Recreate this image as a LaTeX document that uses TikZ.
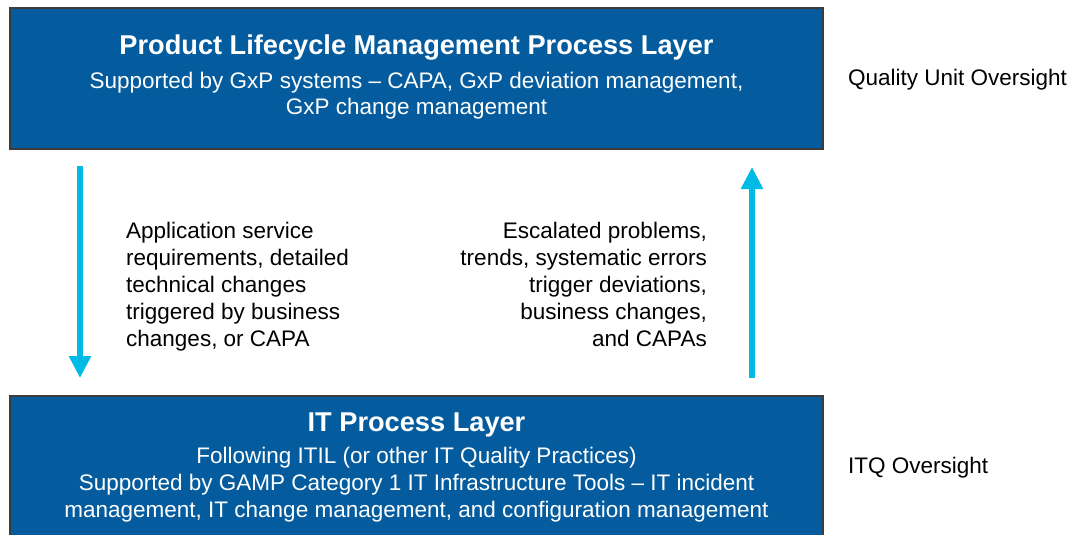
\documentclass[tikz,border=0pt]{standalone}
\usepackage{fontspec}
\setmainfont{Liberation Sans}
\usetikzlibrary{arrows.meta}
\definecolor{layerblue}{RGB}{4,92,158}
\definecolor{layeredge}{RGB}{60,60,60}
\definecolor{flowcyan}{RGB}{0,186,230}
\tikzset{
  layerbox/.style={draw=layeredge, line width=1.5pt, fill=layerblue, rectangle, inner sep=0pt},
  titletext/.style={text=white, font=\fontsize{27.2}{32}\bfseries\selectfont, inner sep=0pt, anchor=base},
  bodytext/.style={text=white, font=\fontsize{22.5}{27}\selectfont, inner sep=0pt, anchor=base, align=center},
  sidetext/.style={text=black, font=\fontsize{22.5}{27}\selectfont, inner sep=0pt},
  flow/.style={draw=flowcyan, line width=6pt, -{Triangle[width=21pt,length=22pt]}}
}
\begin{document}
\begin{tikzpicture}[x=1pt,y=-1pt]
\useasboundingbox (0,0) rectangle (1070,535);
% layer boxes
\node[layerbox, minimum width=813pt, minimum height=141pt] (plm) at (416.5,78.5) {};
\node[layerbox, minimum width=813pt, minimum height=150pt] (itp) at (416.5,471) {};
% box texts (multi-line nodes are anchored at the baseline of their last line)
\node[titletext] (plmtitle) at (416.5,55) {Product Lifecycle Management Process Layer};
\node[bodytext, font=\fontsize{22.5}{26}\selectfont] (plmbody) at (416.5,114) {Supported by GxP systems -- CAPA, GxP deviation management,\\GxP change management};
\node[titletext] (ittitle) at (416.5,431) {IT Process Layer};
\node[bodytext] (itbody) at (416.5,517) {Following ITIL (or other IT Quality Practices)\\Supported by GAMP Category 1 IT Infrastructure Tools -- IT incident\\management, IT change management, and configuration management};
% side labels
\node[sidetext, anchor=base west] (quo) at (848,85) {Quality Unit Oversight};
\node[sidetext, anchor=base west] (itq) at (848,473) {ITQ Oversight};
% flow texts
\node[sidetext, anchor=base west, align=left] (down) at (126,346) {Application service\\requirements, detailed\\technical changes\\triggered by business\\changes, or CAPA};
\node[sidetext, anchor=base east, align=right] (up) at (707,346) {Escalated problems,\\trends, systematic errors\\trigger deviations,\\business changes,\\and CAPAs};
% arrows
\coordinate (downstart) at (80,166);
\coordinate (downend) at (80,378);
\coordinate (upstart) at (752,378);
\coordinate (upend) at (752,167);
\draw[flow] (downstart) -- (downend);
\draw[flow] (upstart) -- (upend);
\end{tikzpicture}
\end{document}
